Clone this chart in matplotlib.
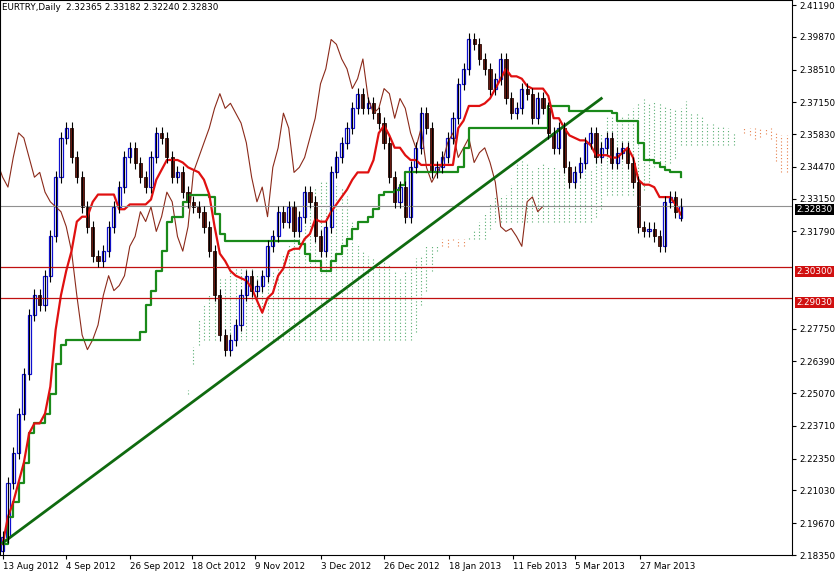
import numpy as np
import pandas as pd
import matplotlib
matplotlib.use("Agg")
import matplotlib.pyplot as plt

# daily closes EURTRY
closes = [2.1911, 2.2136, 2.2259, 2.2422, 2.2586, 2.2831, 2.2913, 2.2872, 2.2995, 2.3158,
          2.3404, 2.3567, 2.3608, 2.3486, 2.3404, 2.3281, 2.3199, 2.3077, 2.3056, 2.3097,
          2.3199, 2.3281, 2.3363, 2.3486, 2.3526, 2.3465, 2.3404, 2.3363, 2.3486, 2.3588,
          2.3567, 2.3486, 2.3404, 2.3424, 2.3342, 2.3302, 2.3281, 2.3261, 2.3199, 2.3097,
          2.2913, 2.2749, 2.2688, 2.2729, 2.2790, 2.2913, 2.2995, 2.2933, 2.2954, 2.2995,
          2.3117, 2.3158, 2.3261, 2.3220, 2.3281, 2.3179, 2.3240, 2.3342, 2.3302, 2.3158,
          2.3097, 2.3199, 2.3424, 2.3486, 2.3547, 2.3608, 2.3690, 2.3751, 2.3690, 2.3711,
          2.3670, 2.3629, 2.3547, 2.3404, 2.3302, 2.3363, 2.3240, 2.3445, 2.3526, 2.3670,
          2.3608, 2.3424, 2.3445, 2.3486, 2.3567, 2.3649, 2.3792, 2.3854, 2.3976, 2.3956,
          2.3895, 2.3854, 2.3772, 2.3813, 2.3895, 2.3731, 2.3670, 2.3690, 2.3772, 2.3751,
          2.3649, 2.3731, 2.3690, 2.3588, 2.3526, 2.3608, 2.3445, 2.3383, 2.3424, 2.3465,
          2.3547, 2.3588, 2.3486, 2.3526, 2.3567, 2.3465, 2.3506, 2.3526, 2.3465, 2.3383,
          2.3199, 2.3179, 2.3191, 2.3158, 2.3117, 2.3302, 2.3322, 2.3261, 2.3283]
first_open = 2.1850
last_ohlc = (2.32365, 2.33182, 2.32240, 2.32830)

price_ticks = [2.41190, 2.39870, 2.38510, 2.37150, 2.35830, 2.34470, 2.33150, 2.31790,
               2.27750, 2.26390, 2.25070, 2.23710, 2.22350, 2.21030,
               2.19670, 2.18350]
date_labels = ["13 Aug 2012", "4 Sep 2012", "26 Sep 2012", "18 Oct 2012", "9 Nov 2012",
               "3 Dec 2012", "26 Dec 2012", "18 Jan 2013", "11 Feb 2013", "5 Mar 2013",
               "27 Mar 2013"]
date_pos = [0, 11.9, 24, 35.8, 47.7, 60, 71.9, 84.3, 96.4, 108.1, 120.4]
support_levels = [2.30300, 2.29030]
current = 2.32830
trend_x = [0, 113]
trend_y = [2.1885, 2.3731]

c = np.array(closes)
o = np.r_[first_open, c[:-1]]
o[-1] = last_ohlc[0]
pad = 0.0025
h = np.maximum(o, c) + pad
l = np.minimum(o, c) - pad
h[-1], l[-1] = last_ohlc[1], last_ohlc[2]
n = len(c)
idx = np.arange(n)

hs, ls = pd.Series(h), pd.Series(l)
def mid(p):
    return ((hs.rolling(p, min_periods=1).max() + ls.rolling(p, min_periods=1).min()) / 2).values
tenkan = mid(9)
kijun = mid(26)
spanA = (tenkan + kijun) / 2
spanB = mid(52)

YMIN, YMAX = 2.1870, 2.4140
fig = plt.figure(figsize=(8.35, 5.84), dpi=100)
ax = fig.add_axes([0, 29 / 584, 792 / 835, 555 / 584])

# cloud, shifted 26 bars forward, drawn as dotted verticals
for i in range(n):
    a, b = spanA[i], spanB[i]
    col = "#e06020" if b > a else "#2f9a4f"
    ax.vlines(i + 26, min(a, b), max(a, b), colors=col, linestyles=(0, (1, 2)), lw=0.8, alpha=0.8)

ax.plot(idx - 26, c, color="#8b2a1a", lw=0.8)  # chikou
ax.plot(idx, kijun, color="#1a8a1a", lw=1.6, drawstyle="steps-post")
ax.plot(idx, tenkan, color="#e01010", lw=1.6)

for lv in support_levels:
    ax.axhline(lv, color="#c01010", lw=0.9)
ax.axhline(current, color="#909090", lw=0.8)
ax.plot(trend_x, trend_y, color="#0f6a0f", lw=2)

up = c >= o
ax.vlines(idx, l, h, color="k", lw=0.8)
ax.bar(idx[up], (c - o)[up], bottom=o[up], width=0.6, color="white", edgecolor="#1010d0", lw=0.9)
ax.bar(idx[~up], (o - c)[~up], bottom=c[~up], width=0.6, color="#6b1a10", edgecolor="#2a0a05", lw=0.6)

ax.set_xlim(-0.5, 149)
ax.set_ylim(YMIN, YMAX)
ax.yaxis.tick_right()
ax.set_yticks(price_ticks)
ax.set_yticklabels([f"{t:.5f}" for t in price_ticks], fontsize=6.3)
ax.set_xticks(date_pos)
ax.set_xticklabels(date_labels, fontsize=6.3, ha="left")
ax.tick_params(length=3, pad=2)
for lv, bg in [(current, "black")] + [(s, "#d01010") for s in support_levels]:
    ax.text(1.006, (lv - YMIN) / (YMAX - YMIN), f"{lv:.5f}", transform=ax.transAxes,
            fontsize=6.3, color="white", va="center", ha="left",
            bbox=dict(boxstyle="square,pad=0.15", fc=bg, ec="none"))
ax.text(0.003, 0.995, "EURTRY,Daily  2.32365 2.33182 2.32240 2.32830", transform=ax.transAxes,
        fontsize=6.3, va="top", ha="left")
fig.savefig("out.png", dpi=100)
